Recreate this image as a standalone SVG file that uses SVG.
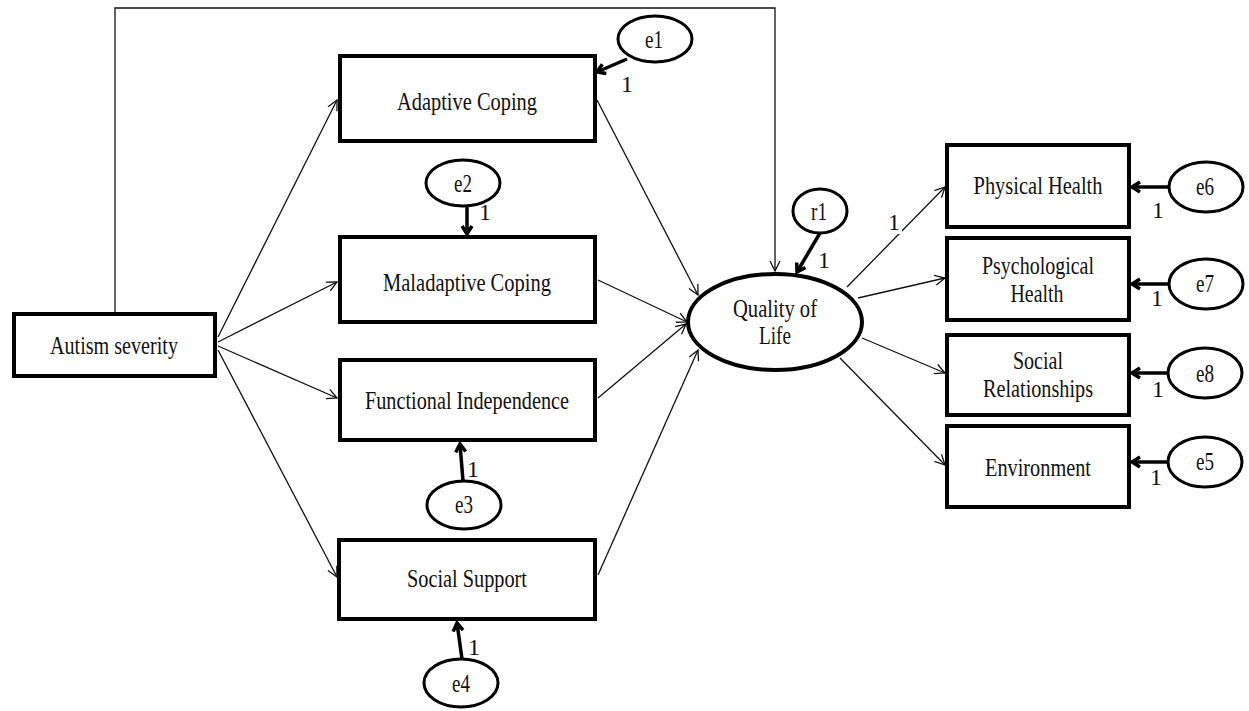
<svg xmlns="http://www.w3.org/2000/svg" width="1249" height="711" viewBox="0 0 1249 711">
<style>
.box{fill:#fff;stroke:#000;stroke-width:4}
.ell{fill:#fff;stroke:#000;stroke-width:3}
.t{font-family:"Liberation Serif","Times New Roman",serif;font-size:25px;fill:#111;text-anchor:middle}
.n{font-family:"Liberation Serif","Times New Roman",serif;font-size:24px;fill:#111;text-anchor:middle}
.thin{fill:none;stroke:#111;stroke-width:1.3;marker-end:url(#open)}
.thick{fill:none;stroke:#000;stroke-width:3.5;marker-end:url(#bold)}
</style>
<defs>
<marker id="open" markerUnits="userSpaceOnUse" markerWidth="14" markerHeight="14" refX="11" refY="6" orient="auto" viewBox="0 0 14 12">
<path d="M1,1 L11,6 L1,11" fill="none" stroke="#111" stroke-width="1.3"/>
</marker>
<marker id="bold" markerUnits="userSpaceOnUse" markerWidth="14" markerHeight="14" refX="10" refY="6" orient="auto" viewBox="0 0 14 12">
<path d="M2,1 L10,6 L2,11" fill="none" stroke="#000" stroke-width="3.5"/>
</marker>
</defs>
<rect width="1249" height="711" fill="#fff"/>
<g id="connectors">
<polyline class="thin" points="115,312 115,8 775,8 775,271"/>
<line class="thin" x1="218" y1="337" x2="337" y2="100"/>
<line class="thin" x1="218" y1="342" x2="337" y2="282"/>
<line class="thin" x1="218" y1="346" x2="337" y2="398"/>
<line class="thin" x1="218" y1="350" x2="337" y2="577"/>
<line class="thin" x1="597" y1="100" x2="698" y2="295"/>
<line class="thin" x1="598" y1="280" x2="687" y2="322"/>
<line class="thin" x1="598" y1="398" x2="686" y2="324"/>
<line class="thin" x1="598" y1="575" x2="698" y2="350"/>
<line class="thin" x1="847" y1="287" x2="945" y2="187"/>
<line class="thin" x1="858" y1="298" x2="945" y2="278"/>
<line class="thin" x1="862" y1="338" x2="945" y2="373"/>
<line class="thin" x1="840" y1="358" x2="945" y2="465"/>
<line class="thick" x1="627" y1="59" x2="597" y2="72"/>
<line class="thick" x1="467" y1="206" x2="467" y2="234"/>
<line class="thick" x1="463" y1="481" x2="460" y2="444"/>
<line class="thick" x1="462" y1="659" x2="457" y2="623"/>
<line class="thick" x1="820" y1="233" x2="797" y2="272"/>
<line class="thick" x1="1169" y1="187" x2="1132" y2="187"/>
<line class="thick" x1="1169" y1="284" x2="1132" y2="284"/>
<line class="thick" x1="1168" y1="373" x2="1132" y2="373"/>
<line class="thick" x1="1168" y1="462" x2="1132" y2="462"/>
<rect x="886" y="208" width="16" height="26" fill="#fff"/>
<text class="n" x="894" y="230">1</text>
</g>
<g id="autism"><rect class="box" x="14" y="314" width="201" height="62"/><text class="t" x="114" y="354" textLength="128" lengthAdjust="spacingAndGlyphs">Autism severity</text></g>
<g id="adaptive"><rect class="box" x="340" y="56" width="255" height="85"/><text class="t" x="467" y="110" textLength="140" lengthAdjust="spacingAndGlyphs">Adaptive Coping</text></g>
<g id="maladaptive"><rect class="box" x="340" y="237" width="255" height="85"/><text class="t" x="467" y="291" textLength="168" lengthAdjust="spacingAndGlyphs">Maladaptive Coping</text></g>
<g id="functional"><rect class="box" x="340" y="360" width="255" height="80"/><text class="t" x="467" y="409" textLength="204" lengthAdjust="spacingAndGlyphs">Functional Independence</text></g>
<g id="support"><rect class="box" x="339" y="540" width="256" height="79"/><text class="t" x="467" y="587" textLength="120" lengthAdjust="spacingAndGlyphs">Social Support</text></g>
<g id="qol"><ellipse cx="775" cy="322" rx="87" ry="48" fill="#fff" stroke="#000" stroke-width="4"/><text class="t" x="775" y="317" textLength="84" lengthAdjust="spacingAndGlyphs">Quality of</text><text class="t" x="775" y="344" textLength="32" lengthAdjust="spacingAndGlyphs">Life</text></g>
<g id="physical"><rect class="box" x="947" y="145" width="182" height="82"/><text class="t" x="1038" y="194" textLength="129" lengthAdjust="spacingAndGlyphs">Physical Health</text></g>
<g id="psych"><rect class="box" x="947" y="238" width="182" height="82"/><text class="t" x="1038" y="274" textLength="112" lengthAdjust="spacingAndGlyphs">Psychological</text><text class="t" x="1037" y="302" textLength="53" lengthAdjust="spacingAndGlyphs">Health</text></g>
<g id="socrel"><rect class="box" x="947" y="335" width="182" height="80"/><text class="t" x="1038" y="369" textLength="50" lengthAdjust="spacingAndGlyphs">Social</text><text class="t" x="1038" y="397" textLength="110" lengthAdjust="spacingAndGlyphs">Relationships</text></g>
<g id="environment"><rect class="box" x="947" y="426" width="182" height="81"/><text class="t" x="1038" y="476" textLength="106" lengthAdjust="spacingAndGlyphs">Environment</text></g>
<g id="e1"><ellipse class="ell" cx="655" cy="39" rx="37" ry="23"/><text class="t" x="654" y="48" textLength="18" lengthAdjust="spacingAndGlyphs">e1</text><text class="n" x="627" y="92">1</text></g>
<g id="e2"><ellipse class="ell" cx="463" cy="183" rx="37" ry="23"/><text class="t" x="463" y="192" textLength="18" lengthAdjust="spacingAndGlyphs">e2</text><text class="n" x="485" y="220">1</text></g>
<g id="e3"><ellipse class="ell" cx="464" cy="505" rx="37" ry="24"/><text class="t" x="464" y="513" textLength="18" lengthAdjust="spacingAndGlyphs">e3</text><text class="n" x="473" y="477">1</text></g>
<g id="e4"><ellipse class="ell" cx="461" cy="683" rx="37" ry="24"/><text class="t" x="461" y="692" textLength="18" lengthAdjust="spacingAndGlyphs">e4</text><text class="n" x="474" y="655">1</text></g>
<g id="r1"><ellipse class="ell" cx="820" cy="211" rx="27" ry="22"/><text class="t" x="819" y="220" textLength="16" lengthAdjust="spacingAndGlyphs">r1</text><text class="n" x="824" y="268">1</text></g>
<g id="e6"><ellipse class="ell" cx="1206" cy="187" rx="37" ry="25"/><text class="t" x="1205" y="195" textLength="18" lengthAdjust="spacingAndGlyphs">e6</text><text class="n" x="1158" y="218">1</text></g>
<g id="e7"><ellipse class="ell" cx="1206" cy="284" rx="37" ry="25"/><text class="t" x="1205" y="292" textLength="18" lengthAdjust="spacingAndGlyphs">e7</text><text class="n" x="1157" y="306">1</text></g>
<g id="e8"><ellipse class="ell" cx="1205" cy="373" rx="37" ry="25"/><text class="t" x="1205" y="382" textLength="18" lengthAdjust="spacingAndGlyphs">e8</text><text class="n" x="1158" y="397">1</text></g>
<g id="e5"><ellipse class="ell" cx="1205" cy="462" rx="37" ry="25"/><text class="t" x="1205" y="470" textLength="18" lengthAdjust="spacingAndGlyphs">e5</text><text class="n" x="1156" y="485">1</text></g>
</svg>
